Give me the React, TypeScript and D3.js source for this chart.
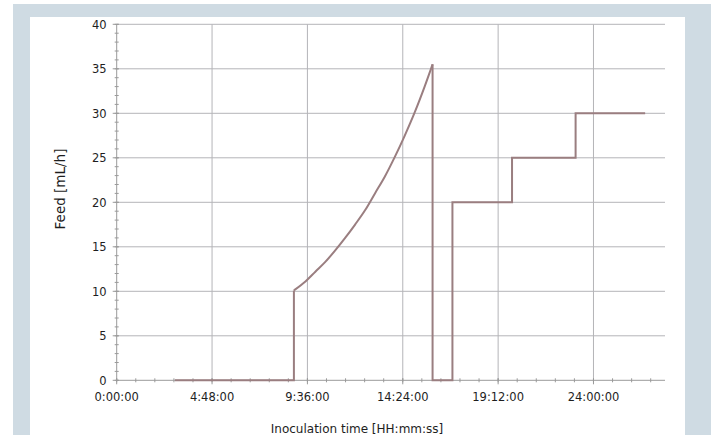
import React from "react";
import * as d3 from "d3";

// feed profile (time in hours, feed in mL/h)
const timeH = [
  2.93, 8.92, 8.92, 9.5, 10, 10.5, 11, 11.5, 12, 12.5, 13, 13.5, 14, 14.5, 15,
  15.5, 15.9, 15.9, 16.9, 16.9, 19.9, 19.9, 23.1, 23.1, 26.6,
];
const feed = [
  0, 0, 10.1, 11.1, 12.2, 13.3, 14.6, 16.0, 17.5, 19.1, 21.0, 22.9, 25.1, 27.5,
  30.1, 33.0, 35.5, 0, 0, 20, 20, 25, 25, 30, 30,
];

const xTicks = [0, 4.8, 9.6, 14.4, 19.2, 24];
const yTicks = [0, 5, 10, 15, 20, 25, 30, 35, 40];

const W = 711;
const H = 435;
const font = "'DejaVu Sans', sans-serif";

const fmtTime = (h: number) => {
  const total = Math.round(h * 3600);
  const hh = Math.floor(total / 3600);
  const mm = Math.floor((total % 3600) / 60);
  const ss = total % 60;
  return `${hh}:${String(mm).padStart(2, "0")}:${String(ss).padStart(2, "0")}`;
};

export default function App() {
  const x = d3.scaleLinear().domain([0, 27.6]).range([116.7, 665]);
  const y = d3.scaleLinear().domain([0, 40]).range([380.3, 24.3]);

  const points = timeH.map((t, i) => [t, feed[i]] as [number, number]);
  const linear = d3
    .line<[number, number]>()
    .x((d) => x(d[0]))
    .y((d) => y(d[1]));
  const smooth = d3
    .line<[number, number]>()
    .x((d) => x(d[0]))
    .y((d) => y(d[1]))
    .curve(d3.curveMonotoneX);

  // curved ramp = points 2..16, the rest are straight steps
  const rampPart = points.slice(2, 17);
  const before = points.slice(0, 3);
  const after = points.slice(16);

  const xMinor = d3.range(0, 27.6, 0.96);
  const yMinor = d3.range(0, 40.01, 1);
  const [x0, x1] = x.range();
  const [y0, y1] = y.range();

  return (
    <svg
      width={W}
      height={H}
      style={{ position: "fixed", left: 0, top: 0, display: "block" }}
    >
      <rect x={0} y={0} width={W} height={H} fill="#fff" />
      <rect x={13} y={4} width={W - 13} height={H - 4} fill="#cfdbe3" />
      <rect x={30} y={17} width={655} height={H - 17} fill="#fff" />

      {/* grid */}
      <g stroke="#b4b4b8" strokeWidth={1}>
        {yTicks.slice(1).map((v) => (
          <line key={"gy" + v} x1={x0} x2={x1} y1={y(v)} y2={y(v)} />
        ))}
        {xTicks.slice(1).map((v) => (
          <line key={"gx" + v} x1={x(v)} x2={x(v)} y1={y0} y2={y1} />
        ))}
      </g>

      {/* axes */}
      <g stroke="#9a9a9a" strokeWidth={1}>
        <line x1={x0} x2={x1} y1={y0} y2={y0} />
        <line x1={x0} x2={x0} y1={y0} y2={y1} />
        {xMinor.map((v) => (
          <line key={"xm" + v} x1={x(v)} x2={x(v)} y1={y0 - 2} y2={y0 + 2} />
        ))}
        {xTicks.map((v) => (
          <line key={"xM" + v} x1={x(v)} x2={x(v)} y1={y0 - 2} y2={y0 + 4} />
        ))}
        {yMinor.map((v) => (
          <line key={"ym" + v} x1={x0 - 2} x2={x0 + 2} y1={y(v)} y2={y(v)} />
        ))}
        {yTicks.map((v) => (
          <line key={"yM" + v} x1={x0 - 4} x2={x0 + 2} y1={y(v)} y2={y(v)} />
        ))}
      </g>

      {/* data */}
      <g fill="none" stroke="#9a7e80" strokeWidth={2}>
        <path d={linear(before) ?? ""} />
        <path d={smooth(rampPart) ?? ""} />
        <path d={linear(after) ?? ""} />
      </g>

      {/* labels */}
      <g fontFamily={font} fill="#1e1e1e">
        {yTicks.map((v) => (
          <text
            key={"yl" + v}
            x={x0 - 10}
            y={y(v) + 4.3}
            textAnchor="end"
            fontSize={11.5}
          >
            {v}
          </text>
        ))}
        {xTicks.map((v) => (
          <text
            key={"xl" + v}
            x={x(v)}
            y={y0 + 21}
            textAnchor="middle"
            fontSize={11.5}
          >
            {fmtTime(v)}
          </text>
        ))}
        <text x={357} y={432.5} textAnchor="middle" fontSize={12}>
          Inoculation time [HH:mm:ss]
        </text>
        <text
          transform="translate(65,189) rotate(-90)"
          textAnchor="middle"
          fontSize={13.5}
        >
          Feed [mL/h]
        </text>
      </g>
    </svg>
  );
}
